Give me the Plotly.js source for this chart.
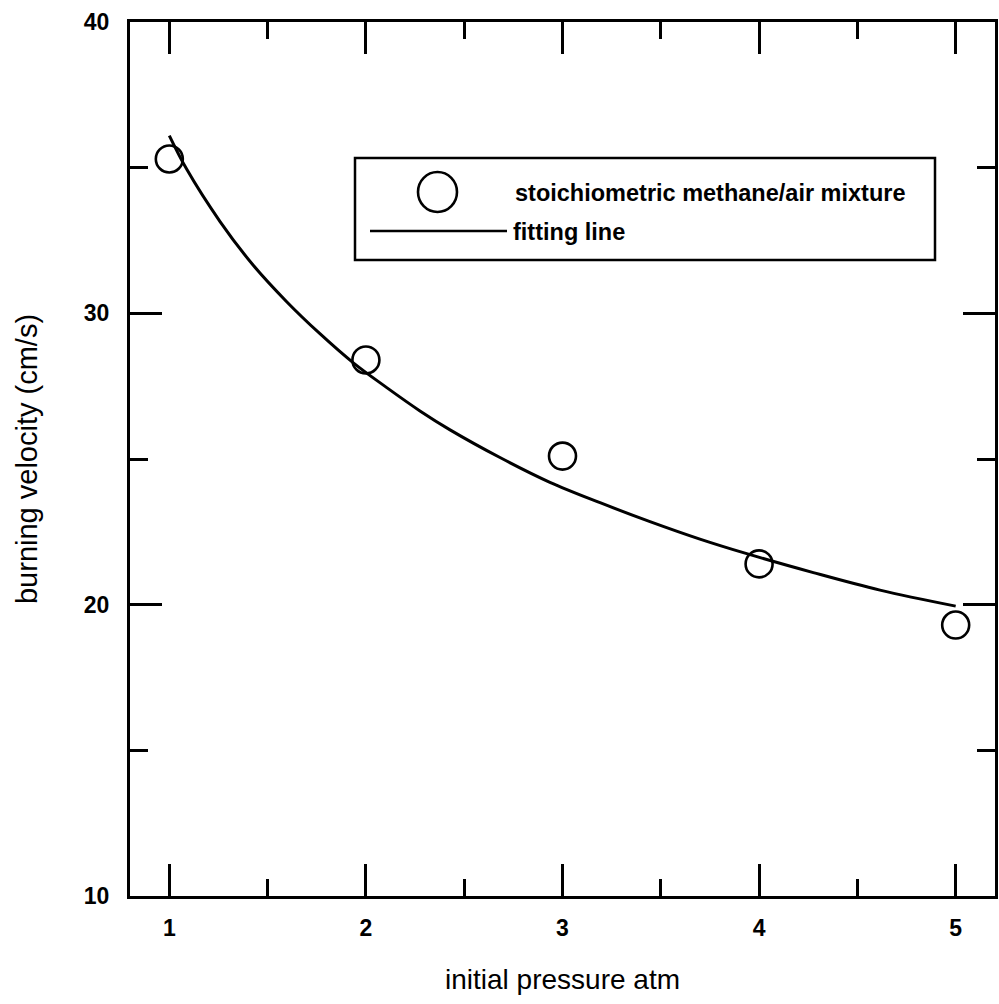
<!DOCTYPE html>
<html>
<head>
<meta charset="utf-8">
<script src="https://cdn.plot.ly/plotly-3.0.1.min.js"></script>
<style>html,body{margin:0;padding:0;background:#fff;}</style>
</head>
<body>
<div id="chart" style="width:999px;height:1004px;"></div>
<script>
// measured data points
const pressure = [1, 2, 3, 4, 5];
const velocity = [35.3, 28.4, 25.1, 21.4, 19.3];
// fitting line
const fitPressure = [1.0, 1.088, 1.258, 1.427, 1.597, 1.766, 1.936, 2.106, 2.275, 2.428, 2.682, 2.936, 3.191, 3.445, 3.699, 3.937, 4.276, 4.615, 5.0];
const fitVelocity = [36.1, 34.95, 33.15, 31.65, 30.4, 29.3, 28.3, 27.45, 26.65, 26.0, 25.05, 24.2, 23.5, 22.85, 22.25, 21.75, 21.1, 20.5, 19.95];
// tick labels
const xTicks = [1, 2, 3, 4, 5];
const yTicks = [10, 20, 30, 40];
const legendLabels = ["stoichiometric methane/air mixture", "fitting line"];
const xTitle = "initial pressure atm";
const yTitle = "burning velocity (cm/s)";

const FONT = "Liberation Sans, Arial, sans-serif";
const L = 130, R = 995, T = 22, B = 896;
const W = R - L, H = B - T;
const px = v => (v - L) / W;
const py = v => (B - v) / H;

const traces = [
  {
    x: fitPressure, y: fitVelocity, type: 'scatter', mode: 'lines',
    line: {color: '#000', width: 3, shape: 'spline', smoothing: 1.0},
    showlegend: false, hoverinfo: 'skip'
  },
  {
    x: pressure, y: velocity, type: 'scatter', mode: 'markers',
    marker: {symbol: 'circle-open', size: 27, color: '#000', line: {width: 2.6, color: '#000'}},
    showlegend: false
  }
];

const axisCommon = {
  showline: true, linecolor: '#000', linewidth: 3, mirror: 'ticks',
  ticks: 'inside', ticklen: 32, tickwidth: 3, tickcolor: '#000',
  showgrid: false, zeroline: false,
  tickfont: {family: FONT, size: 23, color: '#000', weight: 'bold'}
};

const layout = {
  width: 999, height: 1004,
  margin: {l: L, r: 999 - R, t: T, b: 1004 - B},
  paper_bgcolor: '#fff', plot_bgcolor: '#fff',
  showlegend: false,
  xaxis: Object.assign({}, axisCommon, {
    range: [0.8, 5.2], tickmode: 'array', tickvals: xTicks, ticktext: xTicks.map(String),
    minor: {dtick: 0.5, tick0: 0.5, ticks: 'inside', ticklen: 17, tickwidth: 3, tickcolor: '#000', showgrid: false},
    ticklabelstandoff: 9,
    title: {text: xTitle, font: {family: FONT, size: 28, color: '#000'}, standoff: 30}
  }),
  yaxis: Object.assign({}, axisCommon, {
    range: [10, 40], tickmode: 'array', tickvals: yTicks, ticktext: yTicks.map(String),
    minor: {dtick: 5, tick0: 5, ticks: 'inside', ticklen: 18, tickwidth: 3, tickcolor: '#000', showgrid: false},
    ticklabelstandoff: 13,
    title: {text: yTitle, font: {family: FONT, size: 29, color: '#000'}, standoff: 38}
  }),
  shapes: [
    {type: 'rect', xref: 'paper', yref: 'paper', x0: px(355), x1: px(935), y0: py(260), y1: py(158),
     line: {color: '#000', width: 2.5}, fillcolor: '#fff', layer: 'above'},
    {type: 'circle', xref: 'paper', yref: 'paper', x0: px(418), x1: px(457), y0: py(212), y1: py(172),
     line: {color: '#000', width: 2.6}, layer: 'above'},
    {type: 'line', xref: 'paper', yref: 'paper', x0: px(370), x1: px(507), y0: py(231), y1: py(231),
     line: {color: '#000', width: 2.5}, layer: 'above'}
  ],
  annotations: [
    {xref: 'paper', yref: 'paper', x: px(513), y: py(193), xanchor: 'left', yanchor: 'middle', showarrow: false,
     text: legendLabels[0], font: {family: FONT, size: 23.5, color: '#000', weight: 'bold'}},
    {xref: 'paper', yref: 'paper', x: px(511), y: py(232), xanchor: 'left', yanchor: 'middle', showarrow: false,
     text: legendLabels[1], font: {family: FONT, size: 23.5, color: '#000', weight: 'bold'}}
  ]
};

Plotly.newPlot('chart', traces, layout, {displayModeBar: false, staticPlot: true});
</script>
</body>
</html>
